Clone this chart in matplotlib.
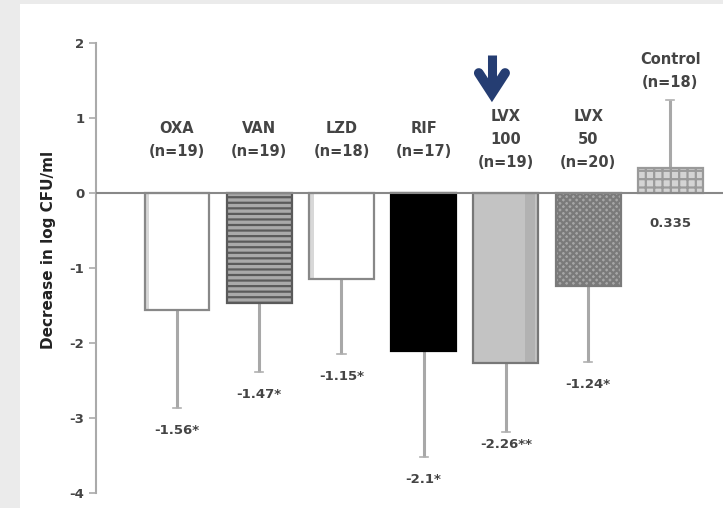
import numpy as np
import matplotlib
matplotlib.use("Agg")
import matplotlib.pyplot as plt
from matplotlib.patches import Rectangle

plt.rcParams["font.family"] = ["DejaVu Sans"]

# data
groups = ["OXA\n(n=19)", "VAN\n(n=19)", "LZD\n(n=18)", "RIF\n(n=17)",
          "LVX\n100\n(n=19)", "LVX\n50\n(n=20)", "Control\n(n=18)"]
means = [-1.56, -1.47, -1.15, -2.10, -2.26, -1.24, 0.335]
sd = [1.31, 0.92, 1.00, 1.42, 0.93, 1.01, 0.905]
value_labels = ["-1.56*", "-1.47*", "-1.15*", "-2.1*", "-2.26**", "-1.24*", "0.335"]

# styling per bar: face, hatch colour, hatch
faces = ["white", "#a9a9a9", "white", "black", "#c3c3c3", "#a6a6a6", "#d4d4d4"]
hatch_cols = ["#888888", "#5a5a5a", "#888888", "black", "#777777", "#7a7a7a", "#9a9a9a"]
hatches = [None, "---", None, None, None, "xxxxx", "++"]
label_y = [0.45, 0.45, 0.45, 0.45, 0.31, 0.31, 1.37]
value_gap = [0.3, 0.3, 0.3, 0.3, 0.17, 0.3, 0.3]

W, H = 723, 508
fig = plt.figure(figsize=(W / 100, H / 100), dpi=100)
fig.patch.set_facecolor("#ebebeb")
fig.add_artist(Rectangle((20 / W, 0), 1, 1 - 4 / H, transform=fig.transFigure,
                         facecolor="white", edgecolor="none", zorder=0))

ax = fig.add_axes([96 / W, 15 / H, 1 - 96 / W, 450 / H])
ax.set_facecolor("none")
x = np.arange(len(groups))
width = 0.79
plt.rcParams["hatch.linewidth"] = 1.6

# error bars (one-sided, away from zero)
for xi, m, s in zip(x, means, sd):
    end = m + s if m > 0 else m - s
    ax.plot([xi, xi], [m, end], color="#a8a8a8", lw=2.2, zorder=1,
            solid_capstyle="butt")
    ax.plot([xi - 0.05, xi + 0.05], [end, end], color="#b0b0b0", lw=1.2, zorder=1)

ax.bar(x, means, width, color=faces, linewidth=0, zorder=2)
for xi, m, hc, h in zip(x, means, hatch_cols, hatches):
    if h:
        ax.bar(xi, m, width, color="none", edgecolor=hc, hatch=h, linewidth=0, zorder=3)
# light shading strip on the left of the open bars
for i in [0, 2]:
    ax.bar(x[i] - width / 2 + 0.03, means[i], 0.06, color="#d8d8d8", linewidth=0, zorder=3)
# darker strip on the right of LVX 100
ax.bar(x[4] + width / 2 - 0.1, means[4], 0.12, color="#b2b2b2", linewidth=0, zorder=3)
ax.bar(x, means, width, fill=False, edgecolor=hatch_cols, linewidth=1.6, zorder=4)

ax.axhline(0, color="#888888", lw=1.5, zorder=5)

for xi, m, s, t, gap in zip(x, means, sd, value_labels, value_gap):
    ty = -0.4 if m > 0 else m - s - gap
    ax.text(xi, ty, t, ha="center", va="center", fontsize=9.5, fontweight="bold",
            color="#444444")

for xi, g, ly in zip(x, groups, label_y):
    ax.text(xi, ly, g, ha="center", va="bottom", fontsize=10.5, fontweight="bold",
            color="#444444", linespacing=1.65)

# arrow over LVX 100
ax_x = x[4] - 0.17
ax.plot([ax_x, ax_x], [1.84, 1.38], color="#253d72", lw=6.5,
        solid_capstyle="butt", zorder=6)
ax.plot([ax_x - 0.16, ax_x, ax_x + 0.16], [1.6, 1.33, 1.6], color="#253d72",
        lw=7, solid_joinstyle="miter", solid_capstyle="round", zorder=6)

ax.set_xlim(-0.985, 6.64)
ax.set_ylim(-4, 2)
ax.set_yticks([2, 1, 0, -1, -2, -3, -4])
ax.set_yticklabels(["2", "1", "0", "-1", "-2", "-3", "-4"])
for sp in ["top", "right", "bottom"]:
    ax.spines[sp].set_visible(False)
ax.spines["left"].set_color("#aaaaaa")
ax.spines["left"].set_linewidth(1.5)
ax.tick_params(axis="y", colors="#aaaaaa", length=5, width=1.2, labelsize=9.5,
               labelcolor="#444444")
for lab in ax.get_yticklabels():
    lab.set_fontweight("bold")
ax.set_xticks([])
ax.set_ylabel("Decrease in log CFU/ml", fontsize=11, fontweight="bold",
              color="#222222")
ax.yaxis.set_label_coords(-0.064, 0.54)

fig.savefig("out.png", dpi=100)
